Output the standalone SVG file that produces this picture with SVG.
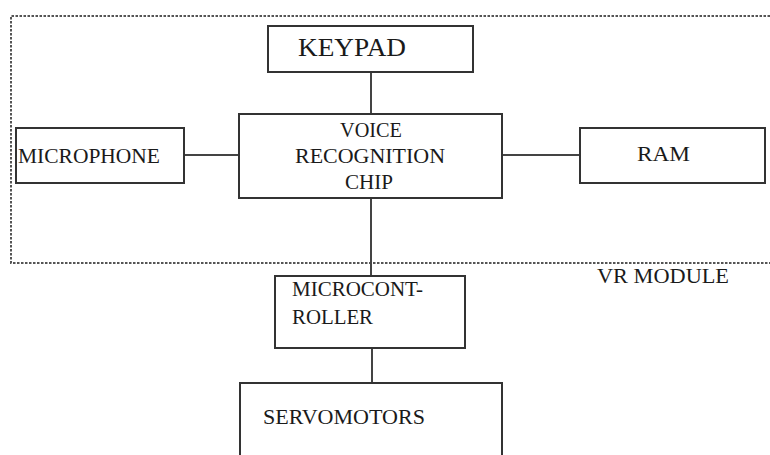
<svg xmlns="http://www.w3.org/2000/svg" width="770" height="455" viewBox="0 0 770 455">
<style>
.box{fill:#fff;stroke:#333;stroke-width:2}
.ln{stroke:#444;stroke-width:2;fill:none}
.dash{stroke:#555;stroke-width:2;fill:none;stroke-dasharray:2.5 1.5}
.t{font-family:"Liberation Serif","Times New Roman",serif;font-size:22px;fill:#1a1a1a}
</style>
<rect width="770" height="455" fill="#fff"/>
<g id="vr-module">
<path class="dash" d="M770 16H11V263H770"/>
<text class="t" x="597" y="283" textLength="132" lengthAdjust="spacingAndGlyphs">VR  MODULE</text>
</g>
<g id="connectors">
<line class="ln" x1="371" y1="72" x2="371" y2="114"/>
<line class="ln" x1="184" y1="155" x2="239" y2="155"/>
<line class="ln" x1="502" y1="155" x2="580" y2="155"/>
<line class="ln" x1="371" y1="198" x2="371" y2="276"/>
<line class="ln" x1="372" y1="348" x2="372" y2="383"/>
</g>
<g id="keypad">
<rect class="box" x="268" y="26" width="205" height="46"/>
<text class="t" x="298" y="56" style="font-size:26px" textLength="108" lengthAdjust="spacingAndGlyphs">KEYPAD</text>
</g>
<g id="microphone">
<rect class="box" x="16" y="128" width="168" height="55"/>
<text class="t" x="18" y="163" textLength="142" lengthAdjust="spacingAndGlyphs">MICROPHONE</text>
</g>
<g id="voice-chip">
<rect class="box" x="239" y="114" width="263" height="84"/>
<text class="t" x="340" y="137" textLength="62" lengthAdjust="spacingAndGlyphs">VOICE</text>
<text class="t" x="295" y="163" textLength="150" lengthAdjust="spacingAndGlyphs">RECOGNITION</text>
<text class="t" x="345" y="189" textLength="48" lengthAdjust="spacingAndGlyphs">CHIP</text>
</g>
<g id="ram">
<rect class="box" x="580" y="128" width="185" height="55"/>
<text class="t" x="637" y="161" textLength="53" lengthAdjust="spacingAndGlyphs">RAM</text>
</g>
<g id="microcontroller">
<rect class="box" x="275" y="276" width="190" height="72"/>
<text class="t" x="292" y="296" textLength="131" lengthAdjust="spacingAndGlyphs">MICROCONT-</text>
<text class="t" x="292" y="324" textLength="81" lengthAdjust="spacingAndGlyphs">ROLLER</text>
</g>
<g id="servomotors">
<rect class="box" x="240" y="383" width="262" height="90"/>
<text class="t" x="263" y="424" textLength="162" lengthAdjust="spacingAndGlyphs">SERVOMOTORS</text>
</g>
</svg>
